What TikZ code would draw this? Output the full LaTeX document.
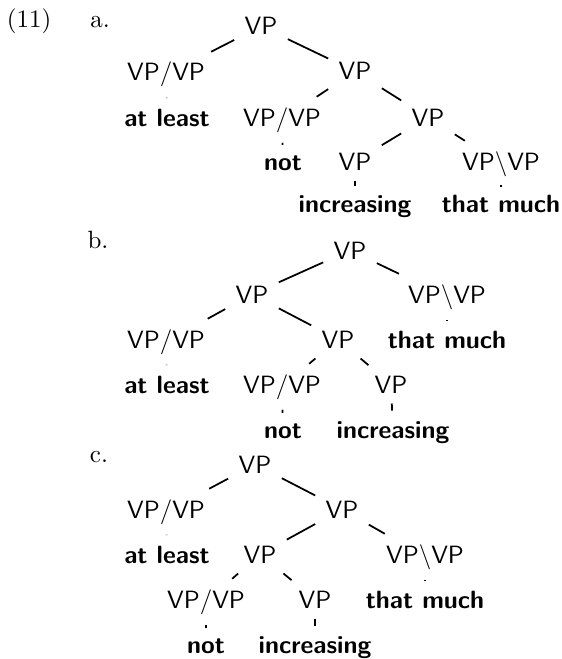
\documentclass[tikz,border=0pt]{standalone}
\begin{document}
\begin{tikzpicture}[x=0.4pt,y=-0.4pt,
  cat/.style={font=\sffamily, inner sep=4pt, anchor=base},
  word/.style={font=\sffamily\bfseries, inner sep=4pt, anchor=base},
  lbl/.style={anchor=base, inner sep=0pt},
  branch/.style={line width=0.7pt}]
\useasboundingbox (0,0) rectangle (561,659);

% example number and sub-labels
\node[lbl] (num) at (29,28) {(11)};
\node[lbl] (la) at (100,28) {a.};
\node[lbl] (lb) at (98,248) {b.};
\node[lbl] (lc) at (99,462) {c.};

% (a)
\node[cat]  (a0)  at (261,35)  {VP};
\node[cat]  (a1)  at (166,81)  {VP/VP};
\node[word] (a1w) at (167,126) {at least};
\node[cat]  (a2)  at (355,80)  {VP};
\node[cat]  (a3)  at (282,126) {VP/VP};
\node[word] (a3w) at (283,170) {not};
\node[cat]  (a4)  at (428,126) {VP};
\node[cat]  (a5)  at (355,170) {VP};
\node[word] (a5w) at (355,213) {increasing};
\node[cat]  (a6)  at (501,170) {VP$\backslash$VP};
\node[word] (a6w) at (501,213) {that much};
\draw[branch] (a0) -- (a1);
\draw[branch] (a0) -- (a2);
\draw[branch] (a1) -- (a1w);
\draw[branch] (a2) -- (a3);
\draw[branch] (a2) -- (a4);
\draw[branch] (a3) -- (a3w);
\draw[branch] (a4) -- (a5);
\draw[branch] (a4) -- (a6);
\draw[branch] (a5) -- (a5w);
\draw[branch] (a6) -- (a6w);

% (b)
\node[cat]  (b0)  at (350,259) {VP};
\node[cat]  (b1)  at (252,303) {VP};
\node[cat]  (b2)  at (447,303) {VP$\backslash$VP};
\node[word] (b2w) at (447,348) {that much};
\node[cat]  (b3)  at (166,348) {VP/VP};
\node[word] (b3w) at (167,393) {at least};
\node[cat]  (b4)  at (338,348) {VP};
\node[cat]  (b5)  at (282,393) {VP/VP};
\node[word] (b5w) at (283,438) {not};
\node[cat]  (b6)  at (391,393) {VP};
\node[word] (b6w) at (393,438) {increasing};
\draw[branch] (b0) -- (b1);
\draw[branch] (b0) -- (b2);
\draw[branch] (b2) -- (b2w);
\draw[branch] (b1) -- (b3);
\draw[branch] (b1) -- (b4);
\draw[branch] (b3) -- (b3w);
\draw[branch] (b4) -- (b5);
\draw[branch] (b4) -- (b6);
\draw[branch] (b5) -- (b5w);
\draw[branch] (b6) -- (b6w);

% (c)
\node[cat]  (c0)  at (255,473) {VP};
\node[cat]  (c1)  at (166,518) {VP/VP};
\node[word] (c1w) at (167,563) {at least};
\node[cat]  (c2)  at (342,518) {VP};
\node[cat]  (c3)  at (260,563) {VP};
\node[cat]  (c4)  at (425,563) {VP$\backslash$VP};
\node[word] (c4w) at (425,608) {that much};
\node[cat]  (c5)  at (206,608) {VP/VP};
\node[word] (c5w) at (206,653) {not};
\node[cat]  (c6)  at (315,608) {VP};
\node[word] (c6w) at (315,653) {increasing};
\draw[branch] (c0) -- (c1);
\draw[branch] (c0) -- (c2);
\draw[branch] (c1) -- (c1w);
\draw[branch] (c2) -- (c3);
\draw[branch] (c2) -- (c4);
\draw[branch] (c4) -- (c4w);
\draw[branch] (c3) -- (c5);
\draw[branch] (c3) -- (c6);
\draw[branch] (c5) -- (c5w);
\draw[branch] (c6) -- (c6w);
\end{tikzpicture}
\end{document}
